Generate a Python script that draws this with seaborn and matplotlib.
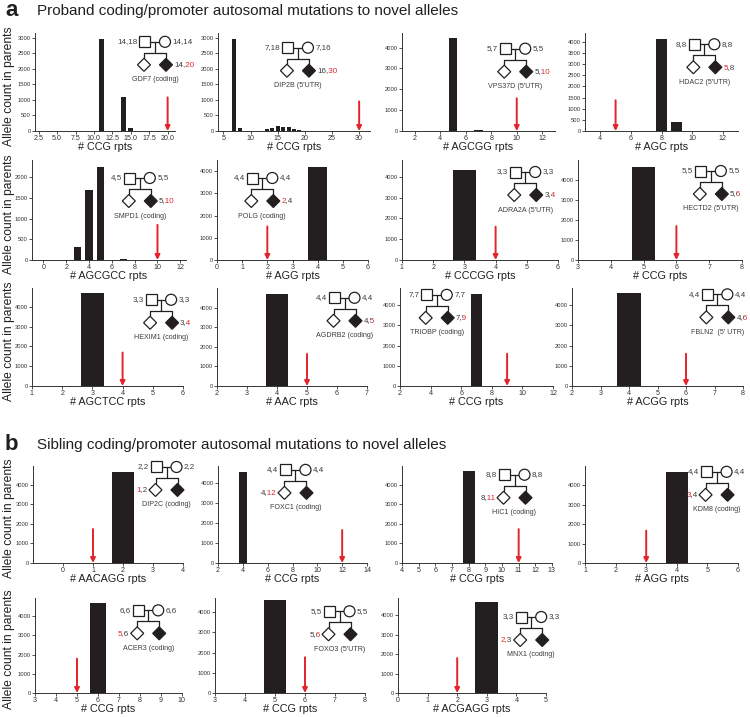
import numpy as np
import matplotlib
matplotlib.use('Agg')
import matplotlib.pyplot as plt
from matplotlib import font_manager
from matplotlib.patches import Rectangle, Circle, Polygon
from matplotlib.transforms import Bbox
import seaborn as sns

# ---- data ----
genes = ['GDF7 (coding)', "DIP2B (5'UTR)", "VPS37D (5'UTR)", "HDAC2 (5'UTR)",
         'SMPD1 (coding)', 'POLG (coding)', "ADRA2A (5'UTR)", "HECTD2 (5'UTR)",
         'HEXIM1 (coding)', 'AGDRB2 (coding)', 'TRIOBP (coding)', "FBLN2  (5' UTR)",
         'DIP2C (coding)', 'FOXC1 (coding)', 'HIC1 (coding)', 'KDM8 (coding)',
         'ACER3 (coding)', "FOXO3 (5'UTR)", 'MNX1 (coding)']
motifs = ['CCG', 'CCG', 'AGCGG', 'AGC', 'AGCGCC', 'AGG', 'CCCGG', 'CCG',
          'AGCTCC', 'AAC', 'CCG', 'ACGG', 'AACAGG', 'CCG', 'CCG', 'AGG',
          'CCG', 'CCG', 'ACGAGG']
father_gt = ['14,18', '7,18', '5,7', '8,8', '4,5', '4,4', '3,3', '5,5', '3,3', '4,4',
             '7,7', '4,4', '2,2', '4,4', '8,8', '4,4', '6,6', '5,5', '3,3']
mother_gt = ['14,14', '7,16', '5,5', '8,8', '5,5', '4,4', '3,3', '5,5', '3,3', '4,4',
             '7,7', '4,4', '2,2', '4,4', '8,8', '4,4', '6,6', '5,5', '3,3']
child_gt = ['14,20', '16,30', '5,10', '5,8', '5,10', '2,4', '3,4', '5,6', '3,4', '4,5',
            '7,9', '4,6', '1,2', '4,12', '8,11', '3,4', '5,6', '5,6', '2,3']
novel_allele = [20, 30, 10, 5, 10, 2, 4, 6, 4, 5, 9, 6, 1, 12, 11, 3, 5, 6, 2]
carrier = ['proband'] * 12 + ['sibling'] * 7

gdf7_rpts = [11, 14, 15]
gdf7_count = [2950, 1080, 110]
dip2b_rpts = [7, 8, 13, 14, 15, 16, 17, 18, 19, 20]
dip2b_count = [2950, 100, 60, 90, 170, 120, 120, 60, 20, 10]
vps37d_rpts = [5, 7]
vps37d_count = [4450, 60]
hdac2_rpts = [7, 8, 9]
hdac2_count = [20, 4130, 400]
smpd1_rpts = [3, 4, 5, 7]
smpd1_count = [320, 1700, 2250, 20]
polg_rpts, polg_count = [4], [4180]
adra2a_rpts, adra2a_count = [3], [4310]
hectd2_rpts, hectd2_count = [5], [4650]
hexim1_rpts, hexim1_count = [3], [4680]
agdrb2_rpts, agdrb2_count = [4], [4700]
triobp_rpts, triobp_count = [7], [4570]
fbln2_rpts, fbln2_count = [4], [4600]
dip2c_rpts, dip2c_count = [2], [4670]
foxc1_rpts, foxc1_count = [4], [4550]
hic1_rpts, hic1_count = [8], [4710]
kdm8_rpts, kdm8_count = [4], [4700]
acer3_rpts, acer3_count = [6], [4680]
foxo3_rpts, foxo3_count = [5], [4600]
mnx1_rpts, mnx1_count = [3], [4670]

bar_rpts = [gdf7_rpts, dip2b_rpts, vps37d_rpts, hdac2_rpts, smpd1_rpts, polg_rpts,
            adra2a_rpts, hectd2_rpts, hexim1_rpts, agdrb2_rpts, triobp_rpts, fbln2_rpts,
            dip2c_rpts, foxc1_rpts, hic1_rpts, kdm8_rpts, acer3_rpts, foxo3_rpts, mnx1_rpts]
bar_count = [gdf7_count, dip2b_count, vps37d_count, hdac2_count, smpd1_count, polg_count,
             adra2a_count, hectd2_count, hexim1_count, agdrb2_count, triobp_count, fbln2_count,
             dip2c_count, foxc1_count, hic1_count, kdm8_count, acer3_count, foxo3_count, mnx1_count]

# ---- layout (pixels on the 750x717 canvas) ----
W, H = 750, 717
panel_x = [(35, 175), (218, 370), (402, 555), (585, 738),
           (32, 186), (217, 368), (402, 558), (578, 742),
           (32, 183), (217, 367), (400, 553), (572, 743),
           (33, 183), (218, 367), (402, 552), (585, 738),
           (35, 182), (215, 365), (398, 546)]
row_y = [(33, 131), (160, 260), (288, 386), (466, 563), (598, 693)]
panel_row = [0, 0, 0, 0, 1, 1, 1, 1, 2, 2, 2, 2, 3, 3, 3, 3, 4, 4, 4]
xlims = [(2, 21), (4, 32), (1, 13), (3, 13), (-1, 12.5), (0, 6), (1, 6), (3, 8),
         (1, 6), (2, 7), (2, 12), (2, 8), (-1, 4), (2, 14), (4, 13), (1, 6),
         (3, 10), (3, 8), (0, 5)]
xtick_rng = [(2.5, 20, 2.5), (5, 30, 5), (2, 12, 2), (4, 12, 2), (0, 12, 2), (0, 6, 1),
             (1, 6, 1), (3, 8, 1), (1, 6, 1), (2, 7, 1), (2, 12, 2), (2, 8, 1),
             (0, 4, 1), (2, 14, 2), (4, 13, 1), (1, 6, 1), (3, 10, 1), (3, 8, 1), (0, 5, 1)]
ytop = [3150, 3150, 4700, 4400, 2420, 4500, 4800, 5000, 4950, 5000, 4850, 4850,
        4970, 4850, 4950, 5000, 4950, 4700, 4900]
ystep = [500, 500, 1000, 500, 500, 1000, 1000, 1000, 1000, 1000, 1000, 1000,
         1000, 1000, 1000, 1000, 1000, 1000, 1000]
bar_w = [0.65, 0.72, 0.7, 0.7, 0.65, 0.73, 0.76, 0.7, 0.77, 0.72, 0.72, 0.85,
         0.74, 0.68, 0.72, 0.73, 0.73, 0.74, 0.77]
arrow_top = [1080, 950, 1570, 1380, 850, 1510, 1600, 1700, 1690, 1640, 1600, 1600,
             1740, 1650, 1730, 1670, 1790, 1770, 1800]
ped_pos = [(0.857, 0.91), (0.526, 0.85), (0.74, 0.84), (0.78, 0.885),
           (0.70, 0.82), (0.30, 0.82), (0.79, 0.88), (0.81, 0.89),
           (0.855, 0.88), (0.85, 0.90), (0.24, 0.93), (0.85, 0.935),
           (0.89, 0.99), (0.52, 0.96), (0.75, 0.91), (0.86, 0.94),
           (0.77, 0.87), (0.83, 0.86), (0.90, 0.80)]

ink = '#231f20'
gray = '#3c3c3c'
red = '#e3242b'

sns.set_style('ticks')
plt.rcParams['font.family'] = ['Liberation Sans', 'DejaVu Sans']

# small labels in the original use a narrow face; use it if installed
try:
    font_manager.findfont(font_manager.FontProperties(family='Liberation Sans Narrow'),
                          fallback_to_default=False)
    narrow, shrink = 'Liberation Sans Narrow', 1.0
except ValueError:
    narrow, shrink = 'Liberation Sans', 0.85


def small(size):
    return dict(family=narrow, size=size * shrink)


def draw_pedigree(fig, ax, fx, fy, father, mother, child, novel, gene, who):
    bb = ax.get_position()
    cx = (bb.x0 + fx * bb.width) * W
    cy = (bb.y0 + fy * bb.height) * H
    pa = fig.add_axes([(cx - 50) / W, (cy - 48) / H, 100 / W, 60 / H])
    pa.set_xlim(-50, 50)
    pa.set_ylim(48, -12)
    pa.axis('off')
    lw = 0.9
    pa.plot([-4.5, 4.5], [0, 0], color=ink, lw=lw)
    pa.plot([0, 0], [0, 11], color=ink, lw=lw)
    pa.plot([-11, 11], [11, 11], color=ink, lw=lw)
    pa.plot([-11, -11], [11, 16.5], color=ink, lw=lw)
    pa.plot([11, 11], [11, 16.5], color=ink, lw=lw)
    pa.add_patch(Rectangle((-15.5, -5.5), 11, 11, fc='white', ec=ink, lw=lw, zorder=3))
    pa.add_patch(Circle((10, 0), 5.5, fc='white', ec=ink, lw=lw, zorder=3))
    for x, fc in [(-11, 'white'), (11, ink)]:
        pa.add_patch(Polygon([(x, 16.5), (x + 6.5, 23), (x, 29.5), (x - 6.5, 23)],
                             closed=True, fc=fc, ec=ink, lw=lw, zorder=3))
    f6 = small(6.8)
    pa.text(-17.5, 0, father, ha='right', va='center', color=gray, fontdict=f6)
    pa.text(17.5, 0, mother, ha='left', va='center', color=gray, fontdict=f6)
    pa.text(0, 38, gene, ha='center', va='center', color=gray, fontdict=small(6))

    # child genotype: two copies of the string, each clipped to its own part,
    # so the novel allele shows in red without breaking the spacing
    ha, x = ('left', 19) if who == 'proband' else ('right', -19)
    tg = pa.text(x, 23, child, ha=ha, va='center', color=gray, fontdict=f6)
    tr = pa.text(x, 23, child, ha=ha, va='center', color=red, fontdict=f6)
    rend = fig.canvas.get_renderer()
    full = tr.get_window_extent(rend)
    first = child.split(',')[0]
    prefix = first if first == str(novel) else first + ','
    tmp = pa.text(0, 0, prefix, fontdict=f6)
    w = tmp.get_window_extent(rend).width
    tmp.remove()
    cut = full.x0 + w + 0.6
    left = Bbox.from_extents(full.x0 - 3, full.y0 - 3, cut, full.y1 + 3)
    right = Bbox.from_extents(cut, full.y0 - 3, full.x1 + 3, full.y1 + 3)
    if first == str(novel):
        boxes = [(tr, left), (tg, right)]
    else:
        boxes = [(tg, left), (tr, right)]
    for t, box in boxes:
        t.set_clip_path(None)
        t.set_clip_box(box)
        t.set_clip_on(True)


fig = plt.figure(figsize=(7.5, 7.17), dpi=100)

for i in range(len(genes)):
    x0, x1 = panel_x[i]
    y0, y1 = row_y[panel_row[i]]
    ax = fig.add_axes([x0 / W, 1 - y1 / H, (x1 - x0) / W, (y1 - y0) / H])
    xs = np.array(bar_rpts[i])
    spacing = np.min(np.diff(xs)) if len(xs) > 1 else 1
    sns.barplot(x=xs, y=bar_count[i], native_scale=True, color=ink, saturation=1,
                width=bar_w[i] / spacing, errorbar=None, linewidth=0, ax=ax)
    ax.set_xlim(*xlims[i])
    a, b, s = xtick_rng[i]
    ax.set_xticks(np.arange(a, b + s / 2, s))
    ax.set_ylim(0, ytop[i])
    ax.set_yticks(np.arange(0, ytop[i], ystep[i]))
    sns.despine(ax=ax)
    for side in ['left', 'bottom']:
        ax.spines[side].set_linewidth(0.7)
        ax.spines[side].set_color('#333333')
    ax.tick_params(direction='out', length=2, width=0.6, pad=1.2, colors='#333333')
    for lab in ax.get_xticklabels():
        lab.set_fontfamily(narrow)
        lab.set_fontsize(6 * shrink)
    for lab in ax.get_yticklabels():
        lab.set_fontfamily(narrow)
        lab.set_fontsize(5 * shrink)
    ax.set_xlabel('# %s rpts' % motifs[i], fontsize=7.8, labelpad=0, color=ink)
    if i in (0, 4, 8, 12, 16):
        ax.set_ylabel('Allele count in parents', fontsize=8.7, color=ink)
        ax.yaxis.set_label_coords((9 - x0) / (x1 - x0), 0.46)
        ax.yaxis.label.set_verticalalignment('center')
    else:
        ax.set_ylabel('')
    ax.annotate('', xy=(novel_allele[i], 0), xytext=(novel_allele[i], arrow_top[i]),
                arrowprops=dict(arrowstyle='-|>', color=red, lw=1.4, mutation_scale=7,
                                shrinkA=0, shrinkB=0))
    draw_pedigree(fig, ax, ped_pos[i][0], ped_pos[i][1], father_gt[i], mother_gt[i],
                  child_gt[i], novel_allele[i], genes[i], carrier[i])

fig.text(5 / W, 1 - 11 / H, 'a', fontsize=16, fontweight='bold', va='center', color=ink)
fig.text(37 / W, 1 - 11 / H, 'Proband coding/promoter autosomal mutations to novel alleles',
         fontsize=11, va='center', color=ink)
fig.text(5 / W, 1 - 445 / H, 'b', fontsize=16, fontweight='bold', va='center', color=ink)
fig.text(37 / W, 1 - 445 / H, 'Sibling coding/promoter autosomal mutations to novel alleles',
         fontsize=11, va='center', color=ink)

fig.savefig('out.png', dpi=100)
